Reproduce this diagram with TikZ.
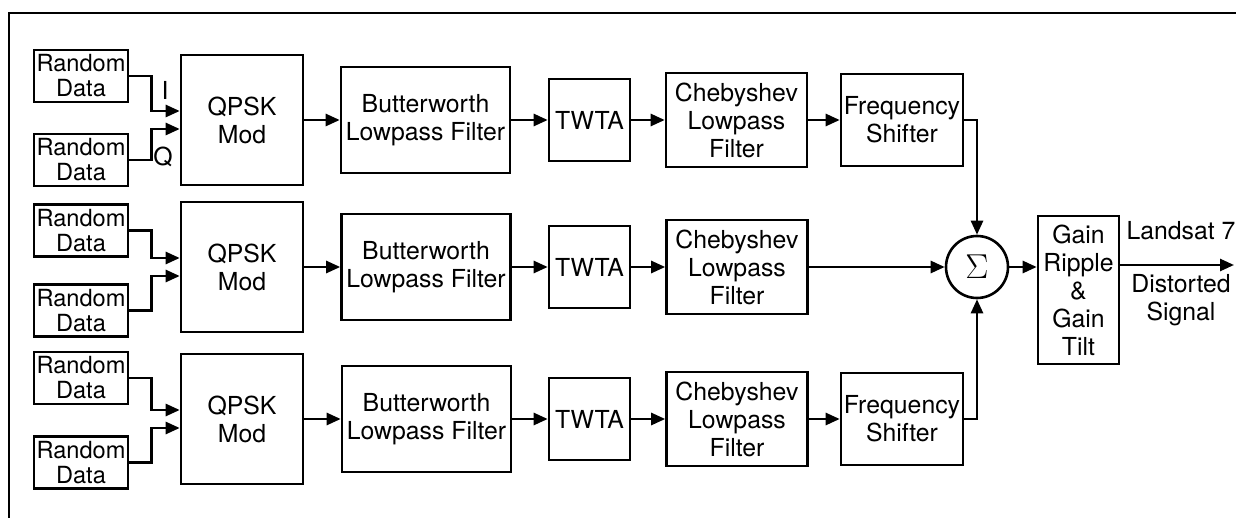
\documentclass[tikz,border=0pt]{standalone}
\usepackage{fontspec}
\setmainfont{TeX Gyre Heros}
\usetikzlibrary{arrows.meta,calc}

\begin{document}
\begin{tikzpicture}[x=0.5pt,y=0.5pt,
  blk/.style={draw,line width=1.3pt,align=center,inner sep=0pt,font=\fontsize{12.4}{14}\selectfont},
  src/.style={blk,minimum width=47pt,minimum height=26pt,font=\fontsize{11.8}{12.5}\selectfont},
  mod/.style={blk,minimum width=61pt,minimum height=65pt},
  bwf/.style={blk,minimum width=84.5pt,minimum height=53pt},
  amp/.style={blk,minimum width=40.5pt,minimum height=41pt},
  cbf/.style={blk,minimum width=70.5pt,minimum height=47pt},
  shf/.style={blk,minimum width=61pt,minimum height=46pt},
  lbl/.style={align=center,inner sep=0pt,font=\fontsize{12.4}{14}\selectfont},
  sig/.style={line width=1.3pt,->,>={Triangle[length=7pt,width=6pt]}}]
  \useasboundingbox (0,0) rectangle (1236,-518);
  \draw[line width=1.1pt] (1236,-13) -- (9,-13) -- (9,-518);
  % channel 1
  \node[src] (rd1) at (81,-76) {Random\\Data};
  \node[src] (rd2) at (81,-160) {Random\\Data};
  \node[mod] (qpsk1) at (242,-120) {QPSK\\Mod};
  \node[bwf] (bw1) at (425.5,-120) {Butterworth\\Lowpass Filter};
  \node[amp] (twta1) at (589.5,-120) {TWTA};
  \node[cbf] (cheb1) at (736.5,-120) {Chebyshev\\Lowpass\\Filter};
  \node[shf] (fs1) at (902,-120) {Frequency\\Shifter};
  \node[lbl] (labI) at (165,-90) {I};
  \node[lbl] (labQ) at (163,-157) {Q};
  \draw[sig] (rd1.east) -- ++(22,0) |- ($(qpsk1.west)+(0,9)$);
  \draw[sig] (rd2.east) -- ++(22,0) |- ($(qpsk1.west)+(0,-9)$);
  \draw[sig] (qpsk1) -- (bw1);
  \draw[sig] (bw1) -- (twta1);
  \draw[sig] (twta1) -- (cheb1);
  \draw[sig] (cheb1) -- (fs1);
  % channel 2
  \node[src] (rd3) at (81,-230.5) {Random\\Data};
  \node[src] (rd4) at (81,-310.5) {Random\\Data};
  \node[mod] (qpsk2) at (242,-267) {QPSK\\Mod};
  \node[bwf] (bw2) at (426,-267) {Butterworth\\Lowpass Filter};
  \node[amp] (twta2) at (589.5,-267) {TWTA};
  \node[cbf] (cheb2) at (737,-267) {Chebyshev\\Lowpass\\Filter};
  \draw[sig] (rd3.east) -- ++(22,0) |- ($(qpsk2.west)+(0,9)$);
  \draw[sig] (rd4.east) -- ++(22,0) |- ($(qpsk2.west)+(0,-9)$);
  \draw[sig] (qpsk2) -- (bw2);
  \draw[sig] (bw2) -- (twta2);
  \draw[sig] (twta2) -- (cheb2);
  % channel 3
  \node[src] (rd5) at (81,-378) {Random\\Data};
  \node[src] (rd6) at (81,-462.5) {Random\\Data};
  \node[mod] (qpsk3) at (242,-419) {QPSK\\Mod};
  \node[bwf] (bw3) at (426.5,-419) {Butterworth\\Lowpass Filter};
  \node[amp] (twta3) at (589.5,-419) {TWTA};
  \node[cbf] (cheb3) at (737,-419) {Chebyshev\\Lowpass\\Filter};
  \node[shf] (fs3) at (902,-419) {Frequency\\Shifter};
  \draw[sig] (rd5.east) -- ++(22,0) |- ($(qpsk3.west)+(0,9)$);
  \draw[sig] (rd6.east) -- ++(22,0) |- ($(qpsk3.west)+(0,-9)$);
  \draw[sig] (qpsk3) -- (bw3);
  \draw[sig] (bw3) -- (twta3);
  \draw[sig] (twta3) -- (cheb3);
  \draw[sig] (cheb3) -- (fs3);
  % combiner and output
  \node[draw,circle,line width=1.3pt,minimum size=31pt,inner sep=0pt,font=\LARGE] (sum) at (977,-267) {$\Sigma$};
  \node[blk,minimum width=40.5pt,minimum height=74pt] (gain) at (1078.5,-290) {Gain\\Ripple\\\&\\Gain\\Tilt};
  \coordinate (out) at (1234,-265);
  \node[lbl] (labTop) at (1181,-231) {Landsat 7};
  \node[lbl] (labBot) at (1181,-300) {Distorted\\Signal};
  \draw[sig] (fs1.east) -| (sum.north);
  \draw[sig] (cheb2) -- (sum);
  \draw[sig] (fs3.east) -| (sum.south);
  \draw[sig] (sum.east) -- (sum.east -| gain.west);
  \draw[sig] (gain.east |- out) -- (out);
\end{tikzpicture}
\end{document}
